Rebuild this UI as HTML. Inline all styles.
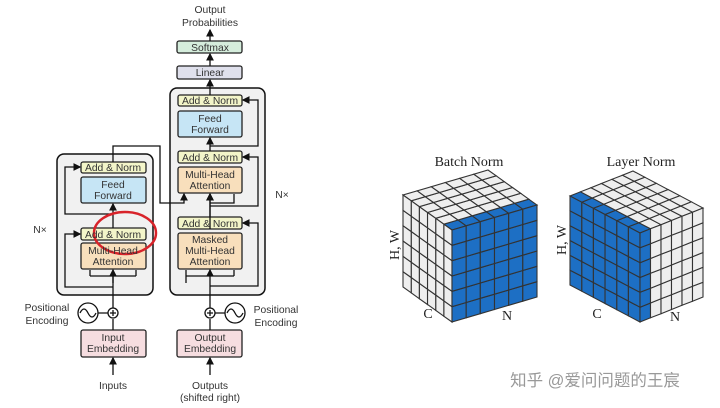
<!DOCTYPE html>
<html><head><meta charset="utf-8"><style>
html,body{margin:0;padding:0;background:#fff;width:720px;height:408px;overflow:hidden}
svg{display:block}
.t{font-family:"Liberation Sans",sans-serif;font-size:10.3px;fill:#333;text-anchor:middle}
.s{font-family:"Liberation Serif",serif;fill:#222;text-anchor:middle}
</style></head><body>
<svg width="720" height="408" viewBox="0 0 720 408" xmlns="http://www.w3.org/2000/svg">
<defs><marker id="a" markerWidth="6" markerHeight="6" refX="5" refY="3" orient="auto"><path d="M0,0 L6,3 L0,6 z" fill="#111"/></marker></defs>
<g stroke="#111" stroke-width="1.5" fill="none">
<rect x="57" y="154" width="96" height="141" rx="7" fill="#f1f1f1"/>
<rect x="170" y="88" width="95" height="207" rx="7" fill="#f1f1f1"/>
</g>
<g stroke="#222" stroke-width="1.3">
<rect x="177" y="41" width="65" height="12" rx="2" fill="#d5eddc"/>
<rect x="177" y="66" width="65" height="13" rx="2" fill="#dfe0ec"/>
<rect x="178" y="95" width="64" height="11" rx="2" fill="#f3f5c9"/>
<rect x="178" y="111" width="64" height="26" rx="2" fill="#c6e5f5"/>
<rect x="178" y="151" width="64" height="12" rx="2" fill="#f3f5c9"/>
<rect x="178" y="167" width="64" height="26" rx="2" fill="#f8dfbc"/>
<rect x="178" y="217" width="64" height="12" rx="2" fill="#f3f5c9"/>
<rect x="178" y="233" width="64" height="36" rx="2" fill="#f8dfbc"/>
<rect x="81" y="162" width="65" height="11" rx="2" fill="#f3f5c9"/>
<rect x="81" y="177" width="65" height="26" rx="2" fill="#c6e5f5"/>
<rect x="81" y="228" width="65" height="12" rx="2" fill="#f3f5c9"/>
<rect x="81" y="243" width="65" height="26" rx="2" fill="#f8dfbc"/>
<rect x="81" y="330" width="65" height="27" rx="2" fill="#f6dde0"/>
<rect x="177" y="330" width="65" height="27" rx="2" fill="#f6dde0"/>
</g>
<g stroke="#111" stroke-width="1.3" fill="none">
<line x1="113" y1="375" x2="113" y2="358" marker-end="url(#a)"/>
<line x1="210" y1="375" x2="210" y2="358" marker-end="url(#a)"/>
<line x1="113" y1="330" x2="113" y2="319"/>
<line x1="210" y1="330" x2="210" y2="319"/>
<line x1="113" y1="308" x2="113" y2="270" marker-end="url(#a)"/>
<line x1="210" y1="308" x2="210" y2="270" marker-end="url(#a)"/>
<line x1="113" y1="228" x2="113" y2="204" marker-end="url(#a)"/>
<line x1="210" y1="217" x2="210" y2="194" marker-end="url(#a)"/>
<line x1="210" y1="151" x2="210" y2="138" marker-end="url(#a)"/>
<line x1="210" y1="95" x2="210" y2="80" marker-end="url(#a)"/>
<line x1="210" y1="66" x2="210" y2="54" marker-end="url(#a)"/>
<line x1="210" y1="41" x2="210" y2="30" marker-end="url(#a)"/>
<path d="M113,283 V276 M90,276 H136 M90,276 V270 M136,276 V270"/>
<path d="M186,283 V276 M186,276 H234 M186,276 V270 M234,276 V270"/>
<path d="M113,287 H65 V234 H80" marker-end="url(#a)"/>
<path d="M113,214 H65 V167 H80" marker-end="url(#a)"/>
<path d="M210,286 H258 V223 H243" marker-end="url(#a)"/>
<path d="M210,206 H258 V157 H243" marker-end="url(#a)"/>
<path d="M210,146 H258 V100 H243" marker-end="url(#a)"/>
<path d="M113,162 V146 H160 V203 H184 V194" marker-end="url(#a)"/>
<path d="M210,229 V203 M210,203 H234 V194" />
<path d="M210,203 V194" marker-end="url(#a)"/>
<circle cx="88" cy="313" r="10"/><circle cx="113" cy="313" r="5"/>
<circle cx="235" cy="313" r="10"/><circle cx="210" cy="313" r="5"/>
<path d="M98,313 H108 M215,313 H225 M110,313 H116 M113,310 V316 M207,313 H213 M210,310 V316"/>
<path d="M80,313 q4,-8 8,0 t8,0 M227,313 q4,-8 8,0 t8,0"/>
</g>
<ellipse cx="125" cy="233" rx="31" ry="21" fill="none" stroke="#d8232a" stroke-width="2.5"/>
<g class="t">
<text x="210" y="13">Output</text><text x="210" y="26">Probabilities</text>
<text x="210" y="51">Softmax</text><text x="210" y="76">Linear</text>
<text x="210" y="104">Add &amp; Norm</text>
<text x="210" y="122">Feed</text><text x="210" y="133">Forward</text>
<text x="210" y="161">Add &amp; Norm</text>
<text x="210" y="178">Multi-Head</text><text x="210" y="189">Attention</text>
<text x="210" y="227">Add &amp; Norm</text>
<text x="210" y="243">Masked</text><text x="210" y="254">Multi-Head</text><text x="210" y="265">Attention</text>
<text x="113" y="171">Add &amp; Norm</text>
<text x="113" y="188">Feed</text><text x="113" y="199">Forward</text>
<text x="113" y="238">Add &amp; Norm</text>
<text x="113" y="254">Multi-Head</text><text x="113" y="265">Attention</text>
<text x="113" y="341">Input</text><text x="113" y="352">Embedding</text>
<text x="210" y="341">Output</text><text x="210" y="352">Embedding</text>
<text x="113" y="389">Inputs</text>
<text x="210" y="389">Outputs</text><text x="210" y="401">(shifted right)</text>
<text x="47" y="311">Positional</text><text x="47" y="324">Encoding</text>
<text x="276" y="313">Positional</text><text x="276" y="326">Encoding</text>
<text x="40" y="233">N×</text><text x="282" y="198">N×</text>
</g>
<g id="cubes"></g>
<g class="s">
<text x="469" y="166" font-size="14">Batch Norm</text>
<text x="641" y="166" font-size="14">Layer Norm</text>
<text x="428" y="318" font-size="14">C</text>
<text x="507" y="320" font-size="14">N</text>
<text x="597" y="318" font-size="14">C</text>
<text x="675" y="321" font-size="14">N</text>
<text transform="translate(399,245) rotate(-90)" font-size="14">H, W</text>
<text transform="translate(566,240) rotate(-90)" font-size="14">H, W</text>
</g>
<text x="595" y="386" font-family="'Liberation Sans','Noto Sans CJK SC',sans-serif" font-size="16.5" fill="#999" text-anchor="middle">知乎 @爱问问题的王宸</text>
</svg>
<script>
(function(){
var g=document.getElementById('cubes'),ns='http://www.w3.org/2000/svg',n=6;
function poly(pts,fill){var p=document.createElementNS(ns,'polygon');p.setAttribute('points',pts.map(function(q){return q[0].toFixed(1)+','+q[1].toFixed(1)}).join(' '));p.setAttribute('fill',fill);p.setAttribute('stroke','#333');p.setAttribute('stroke-width','1.1');g.appendChild(p);}
function cube(F,L,R,H,mode){
 var B='#1d6fc4',W='#eeeeee';
 function P(o,a,b,i,j){return [o[0]+a[0]*i/n+b[0]*j/n,o[1]+a[1]*i/n+b[1]*j/n];}
 var U=[0,-H];
 for(var i=0;i<n;i++)for(var j=0;j<n;j++){
  var c=(mode=='L')?B:W;
  poly([P(F,L,U,i,j),P(F,L,U,i+1,j),P(F,L,U,i+1,j+1),P(F,L,U,i,j+1)],c);
  c=(mode=='B')?B:(i==0?B:W);
  poly([P(F,R,U,i,j),P(F,R,U,i+1,j),P(F,R,U,i+1,j+1),P(F,R,U,i,j+1)],c);
  var T=[F[0],F[1]-H];
  c=W; if(mode=='B'&&i==0)c=B; if(mode=='L'&&j==0)c=B;
  poly([P(T,L,R,i,j),P(T,L,R,i+1,j),P(T,L,R,i+1,j+1),P(T,L,R,i,j+1)],c);
 }
}
cube([452,322],[-49,-35],[85,-25],92,'B');
cube([640,322],[-70,-37],[63,-25],89,'L');
})();
</script>
</body></html>
